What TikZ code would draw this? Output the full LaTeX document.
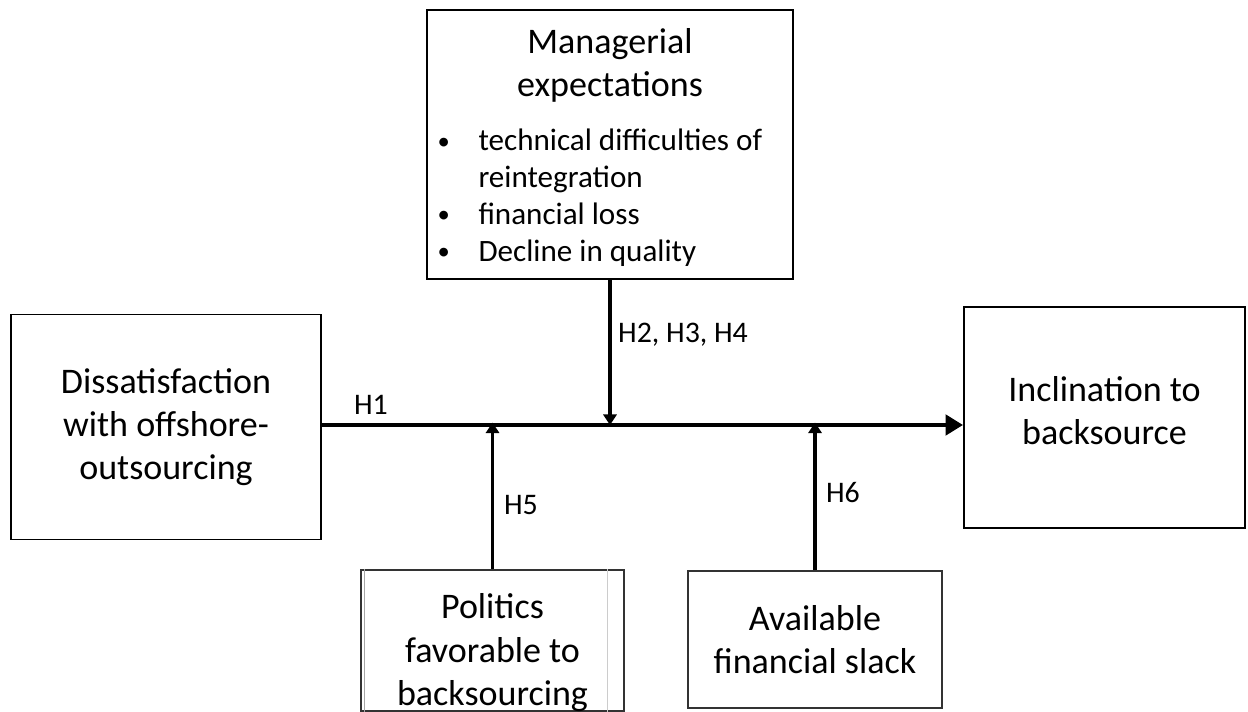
\documentclass[tikz,border=0pt]{standalone}
\usepackage{fontspec}
\setmainfont{Carlito}
\usepackage{tikz}
\usetikzlibrary{arrows.meta, positioning}

\newcommand{\boxfont}{\fontsize{20.5}{24.5}\selectfont}
\newcommand{\listfont}{\fontsize{17.7}{21}\selectfont}
\newcommand{\hypfont}{\fontsize{17}{20}\selectfont}
\newcommand{\bul}{\raisebox{1pt}{\fontsize{14}{14}\selectfont •}}

\begin{document}
\begin{tikzpicture}[x=0.02cm, y=-0.02cm,
		box/.style={draw, line width=1.1pt, align=center, font=\boxfont, inner sep=0pt,
			execute at begin node={\spaceskip=0pt\xspaceskip=0pt}},
		lowbox/.style={box, draw=black!80, line width=0.9pt},
		hyp/.style={font=\hypfont, inner sep=0pt},
		mainarrow/.style={line width=2.8pt, -{Triangle[length=10pt, width=11.5pt]}},
		modarrow/.style={line width=1.8pt, -{Triangle[length=6pt, width=7.5pt]}}]
			\useasboundingbox (0,0) rectangle (1248,712);
			
			% boxes
			\node [box, minimum width=6.2cm, minimum height=4.5cm] (diss) at (166,427) {Dissatisfaction\\with offshore-\\outsourcing};
			\node [box, minimum width=5.62cm, minimum height=4.42cm] (incl) at (1104.5,417.5) {Inclination to\\backsource\rule[-8pt]{0pt}{0pt}};
			\node [box, minimum width=7.32cm, minimum height=5.38cm, text width=6.9cm, align=left] (mgr) at (610,144.5) {%
				{\centering\rule{0pt}{21pt}Managerial\\expectations\par}
				\vspace{12pt}
				{\listfont\spaceskip=0pt\xspaceskip=0pt\noindent
				\begin{tabular}{@{}p{0.82cm}@{}l@{}}
					\bul & technical difficulties of\\
					     & reintegration\\
					\bul & financial loss\\
					\bul & Decline in quality
				\end{tabular}\par}};
			\node [lowbox, minimum width=5.26cm, minimum height=2.7cm] (pol) at (492.5,640.5) {\rule{0pt}{28pt}Politics\\favorable to\\backsourcing};
			\node [lowbox, minimum width=5.08cm, minimum height=2.74cm] (avail) at (815,639.5) {Available\\financial slack};
			
			% faint inner rules of the politics box
			\draw [black!35, line width=0.5pt] ([xshift=0.08cm]pol.north west) -- ([xshift=0.08cm]pol.south west);
			\draw [black!20, line width=0.5pt] ([xshift=-0.34cm]pol.north east) -- ([xshift=-0.34cm]pol.south east);
			
			% arrows
			\coordinate (axis) at (0,425);
			\draw [mainarrow] (diss.east |- axis) -- (incl.west |- axis);
			\draw [modarrow] (mgr.south) -- (mgr.south |- axis);
			\draw [modarrow] (pol.north) -- ([yshift=1.4pt]pol.north |- axis);
			\draw [modarrow] (avail.north) -- ([yshift=1.4pt]avail.north |- axis);
			
			\node [hyp] (h1) at (371,405) {H1};
			\node [hyp] (h234) at (683,335) {H2, H3, H4};
			\node [hyp] (h5) at (521,505) {H5};
			\node [hyp] (h6) at (843,493) {H6};
		\end{tikzpicture}
\end{document}
